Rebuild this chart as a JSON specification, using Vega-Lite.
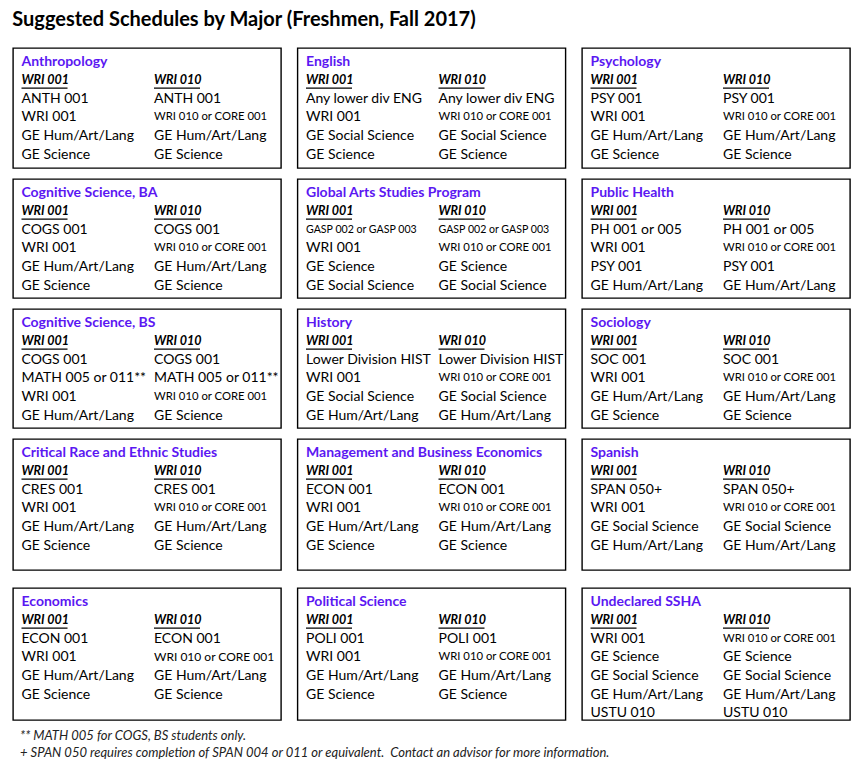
{
  "$schema": "https://vega.github.io/schema/vega-lite/v6.json",
  "padding": {"left": 12, "top": 10, "right": 5, "bottom": 5},
  "background": "white",
  "title": {"text": "Suggested Schedules by Major (Freshmen, Fall 2017)", "anchor": "start", "fontSize": 20, "fontWeight": "bold", "color": "black", "offset": 17, "font": "Lato"},
  "config": {"font": "Lato", "view": {"stroke": "black", "strokeWidth": 1.4}},
  "datasets": {
    "boxes": [
      {"r":1,"c":1,"k":"t","s":0,"n":0,"t":"Anthropology"},
      {"r":1,"c":1,"k":"h","s":0,"n":1,"t":"WRI 001"},
      {"r":1,"c":1,"k":"h","s":1,"n":1,"t":"WRI 010"},
      {"r":1,"c":1,"k":"i","s":0,"n":2,"t":"ANTH 001"},
      {"r":1,"c":1,"k":"i","s":0,"n":3,"t":"WRI 001"},
      {"r":1,"c":1,"k":"i","s":0,"n":4,"t":"GE Hum/Art/Lang"},
      {"r":1,"c":1,"k":"i","s":0,"n":5,"t":"GE Science"},
      {"r":1,"c":1,"k":"i","s":1,"n":2,"t":"ANTH 001"},
      {"r":1,"c":1,"k":"i","s":1,"n":3,"t":"WRI 010 or CORE 001"},
      {"r":1,"c":1,"k":"i","s":1,"n":4,"t":"GE Hum/Art/Lang"},
      {"r":1,"c":1,"k":"i","s":1,"n":5,"t":"GE Science"},

      {"r":1,"c":2,"k":"t","s":0,"n":0,"t":"English"},
      {"r":1,"c":2,"k":"h","s":0,"n":1,"t":"WRI 001"},
      {"r":1,"c":2,"k":"h","s":1,"n":1,"t":"WRI 010"},
      {"r":1,"c":2,"k":"i","s":0,"n":2,"t":"Any lower div ENG"},
      {"r":1,"c":2,"k":"i","s":0,"n":3,"t":"WRI 001"},
      {"r":1,"c":2,"k":"i","s":0,"n":4,"t":"GE Social Science"},
      {"r":1,"c":2,"k":"i","s":0,"n":5,"t":"GE Science"},
      {"r":1,"c":2,"k":"i","s":1,"n":2,"t":"Any lower div ENG"},
      {"r":1,"c":2,"k":"i","s":1,"n":3,"t":"WRI 010 or CORE 001"},
      {"r":1,"c":2,"k":"i","s":1,"n":4,"t":"GE Social Science"},
      {"r":1,"c":2,"k":"i","s":1,"n":5,"t":"GE Science"},

      {"r":1,"c":3,"k":"t","s":0,"n":0,"t":"Psychology"},
      {"r":1,"c":3,"k":"h","s":0,"n":1,"t":"WRI 001"},
      {"r":1,"c":3,"k":"h","s":1,"n":1,"t":"WRI 010"},
      {"r":1,"c":3,"k":"i","s":0,"n":2,"t":"PSY 001"},
      {"r":1,"c":3,"k":"i","s":0,"n":3,"t":"WRI 001"},
      {"r":1,"c":3,"k":"i","s":0,"n":4,"t":"GE Hum/Art/Lang"},
      {"r":1,"c":3,"k":"i","s":0,"n":5,"t":"GE Science"},
      {"r":1,"c":3,"k":"i","s":1,"n":2,"t":"PSY 001"},
      {"r":1,"c":3,"k":"i","s":1,"n":3,"t":"WRI 010 or CORE 001"},
      {"r":1,"c":3,"k":"i","s":1,"n":4,"t":"GE Hum/Art/Lang"},
      {"r":1,"c":3,"k":"i","s":1,"n":5,"t":"GE Science"},

      {"r":2,"c":1,"k":"t","s":0,"n":0,"t":"Cognitive Science, BA"},
      {"r":2,"c":1,"k":"h","s":0,"n":1,"t":"WRI 001"},
      {"r":2,"c":1,"k":"h","s":1,"n":1,"t":"WRI 010"},
      {"r":2,"c":1,"k":"i","s":0,"n":2,"t":"COGS 001"},
      {"r":2,"c":1,"k":"i","s":0,"n":3,"t":"WRI 001"},
      {"r":2,"c":1,"k":"i","s":0,"n":4,"t":"GE Hum/Art/Lang"},
      {"r":2,"c":1,"k":"i","s":0,"n":5,"t":"GE Science"},
      {"r":2,"c":1,"k":"i","s":1,"n":2,"t":"COGS 001"},
      {"r":2,"c":1,"k":"i","s":1,"n":3,"t":"WRI 010 or CORE 001"},
      {"r":2,"c":1,"k":"i","s":1,"n":4,"t":"GE Hum/Art/Lang"},
      {"r":2,"c":1,"k":"i","s":1,"n":5,"t":"GE Science"},

      {"r":2,"c":2,"k":"t","s":0,"n":0,"t":"Global Arts Studies Program"},
      {"r":2,"c":2,"k":"h","s":0,"n":1,"t":"WRI 001"},
      {"r":2,"c":2,"k":"h","s":1,"n":1,"t":"WRI 010"},
      {"r":2,"c":2,"k":"i","s":0,"n":2,"t":"GASP 002 or GASP 003"},
      {"r":2,"c":2,"k":"i","s":0,"n":3,"t":"WRI 001"},
      {"r":2,"c":2,"k":"i","s":0,"n":4,"t":"GE Science"},
      {"r":2,"c":2,"k":"i","s":0,"n":5,"t":"GE Social Science"},
      {"r":2,"c":2,"k":"i","s":1,"n":2,"t":"GASP 002 or GASP 003"},
      {"r":2,"c":2,"k":"i","s":1,"n":3,"t":"WRI 010 or CORE 001"},
      {"r":2,"c":2,"k":"i","s":1,"n":4,"t":"GE Science"},
      {"r":2,"c":2,"k":"i","s":1,"n":5,"t":"GE Social Science"},

      {"r":2,"c":3,"k":"t","s":0,"n":0,"t":"Public Health"},
      {"r":2,"c":3,"k":"h","s":0,"n":1,"t":"WRI 001"},
      {"r":2,"c":3,"k":"h","s":1,"n":1,"t":"WRI 010"},
      {"r":2,"c":3,"k":"i","s":0,"n":2,"t":"PH 001 or 005"},
      {"r":2,"c":3,"k":"i","s":0,"n":3,"t":"WRI 001"},
      {"r":2,"c":3,"k":"i","s":0,"n":4,"t":"PSY 001"},
      {"r":2,"c":3,"k":"i","s":0,"n":5,"t":"GE Hum/Art/Lang"},
      {"r":2,"c":3,"k":"i","s":1,"n":2,"t":"PH 001 or 005"},
      {"r":2,"c":3,"k":"i","s":1,"n":3,"t":"WRI 010 or CORE 001"},
      {"r":2,"c":3,"k":"i","s":1,"n":4,"t":"PSY 001"},
      {"r":2,"c":3,"k":"i","s":1,"n":5,"t":"GE Hum/Art/Lang"},

      {"r":3,"c":1,"k":"t","s":0,"n":0,"t":"Cognitive Science, BS"},
      {"r":3,"c":1,"k":"h","s":0,"n":1,"t":"WRI 001"},
      {"r":3,"c":1,"k":"h","s":1,"n":1,"t":"WRI 010"},
      {"r":3,"c":1,"k":"i","s":0,"n":2,"t":"COGS 001"},
      {"r":3,"c":1,"k":"i","s":0,"n":3,"t":"MATH 005 or 011**"},
      {"r":3,"c":1,"k":"i","s":0,"n":4,"t":"WRI 001"},
      {"r":3,"c":1,"k":"i","s":0,"n":5,"t":"GE Hum/Art/Lang"},
      {"r":3,"c":1,"k":"i","s":1,"n":2,"t":"COGS 001"},
      {"r":3,"c":1,"k":"i","s":1,"n":3,"t":"MATH 005 or 011**"},
      {"r":3,"c":1,"k":"i","s":1,"n":4,"t":"WRI 010 or CORE 001"},
      {"r":3,"c":1,"k":"i","s":1,"n":5,"t":"GE Science"},

      {"r":3,"c":2,"k":"t","s":0,"n":0,"t":"History"},
      {"r":3,"c":2,"k":"h","s":0,"n":1,"t":"WRI 001"},
      {"r":3,"c":2,"k":"h","s":1,"n":1,"t":"WRI 010"},
      {"r":3,"c":2,"k":"i","s":0,"n":2,"t":"Lower Division HIST"},
      {"r":3,"c":2,"k":"i","s":0,"n":3,"t":"WRI 001"},
      {"r":3,"c":2,"k":"i","s":0,"n":4,"t":"GE Social Science"},
      {"r":3,"c":2,"k":"i","s":0,"n":5,"t":"GE Hum/Art/Lang"},
      {"r":3,"c":2,"k":"i","s":1,"n":2,"t":"Lower Division HIST"},
      {"r":3,"c":2,"k":"i","s":1,"n":3,"t":"WRI 010 or CORE 001"},
      {"r":3,"c":2,"k":"i","s":1,"n":4,"t":"GE Social Science"},
      {"r":3,"c":2,"k":"i","s":1,"n":5,"t":"GE Hum/Art/Lang"},

      {"r":3,"c":3,"k":"t","s":0,"n":0,"t":"Sociology"},
      {"r":3,"c":3,"k":"h","s":0,"n":1,"t":"WRI 001"},
      {"r":3,"c":3,"k":"h","s":1,"n":1,"t":"WRI 010"},
      {"r":3,"c":3,"k":"i","s":0,"n":2,"t":"SOC 001"},
      {"r":3,"c":3,"k":"i","s":0,"n":3,"t":"WRI 001"},
      {"r":3,"c":3,"k":"i","s":0,"n":4,"t":"GE Hum/Art/Lang"},
      {"r":3,"c":3,"k":"i","s":0,"n":5,"t":"GE Science"},
      {"r":3,"c":3,"k":"i","s":1,"n":2,"t":"SOC 001"},
      {"r":3,"c":3,"k":"i","s":1,"n":3,"t":"WRI 010 or CORE 001"},
      {"r":3,"c":3,"k":"i","s":1,"n":4,"t":"GE Hum/Art/Lang"},
      {"r":3,"c":3,"k":"i","s":1,"n":5,"t":"GE Science"},

      {"r":4,"c":1,"k":"t","s":0,"n":0,"t":"Critical Race and Ethnic Studies"},
      {"r":4,"c":1,"k":"h","s":0,"n":1,"t":"WRI 001"},
      {"r":4,"c":1,"k":"h","s":1,"n":1,"t":"WRI 010"},
      {"r":4,"c":1,"k":"i","s":0,"n":2,"t":"CRES 001"},
      {"r":4,"c":1,"k":"i","s":0,"n":3,"t":"WRI 001"},
      {"r":4,"c":1,"k":"i","s":0,"n":4,"t":"GE Hum/Art/Lang"},
      {"r":4,"c":1,"k":"i","s":0,"n":5,"t":"GE Science"},
      {"r":4,"c":1,"k":"i","s":1,"n":2,"t":"CRES 001"},
      {"r":4,"c":1,"k":"i","s":1,"n":3,"t":"WRI 010 or CORE 001"},
      {"r":4,"c":1,"k":"i","s":1,"n":4,"t":"GE Hum/Art/Lang"},
      {"r":4,"c":1,"k":"i","s":1,"n":5,"t":"GE Science"},

      {"r":4,"c":2,"k":"t","s":0,"n":0,"t":"Management and Business Economics"},
      {"r":4,"c":2,"k":"h","s":0,"n":1,"t":"WRI 001"},
      {"r":4,"c":2,"k":"h","s":1,"n":1,"t":"WRI 010"},
      {"r":4,"c":2,"k":"i","s":0,"n":2,"t":"ECON 001"},
      {"r":4,"c":2,"k":"i","s":0,"n":3,"t":"WRI 001"},
      {"r":4,"c":2,"k":"i","s":0,"n":4,"t":"GE Hum/Art/Lang"},
      {"r":4,"c":2,"k":"i","s":0,"n":5,"t":"GE Science"},
      {"r":4,"c":2,"k":"i","s":1,"n":2,"t":"ECON 001"},
      {"r":4,"c":2,"k":"i","s":1,"n":3,"t":"WRI 010 or CORE 001"},
      {"r":4,"c":2,"k":"i","s":1,"n":4,"t":"GE Hum/Art/Lang"},
      {"r":4,"c":2,"k":"i","s":1,"n":5,"t":"GE Science"},

      {"r":4,"c":3,"k":"t","s":0,"n":0,"t":"Spanish"},
      {"r":4,"c":3,"k":"h","s":0,"n":1,"t":"WRI 001"},
      {"r":4,"c":3,"k":"h","s":1,"n":1,"t":"WRI 010"},
      {"r":4,"c":3,"k":"i","s":0,"n":2,"t":"SPAN 050+"},
      {"r":4,"c":3,"k":"i","s":0,"n":3,"t":"WRI 001"},
      {"r":4,"c":3,"k":"i","s":0,"n":4,"t":"GE Social Science"},
      {"r":4,"c":3,"k":"i","s":0,"n":5,"t":"GE Hum/Art/Lang"},
      {"r":4,"c":3,"k":"i","s":1,"n":2,"t":"SPAN 050+"},
      {"r":4,"c":3,"k":"i","s":1,"n":3,"t":"WRI 010 or CORE 001"},
      {"r":4,"c":3,"k":"i","s":1,"n":4,"t":"GE Social Science"},
      {"r":4,"c":3,"k":"i","s":1,"n":5,"t":"GE Hum/Art/Lang"},

      {"r":5,"c":1,"k":"t","s":0,"n":0,"t":"Economics"},
      {"r":5,"c":1,"k":"h","s":0,"n":1,"t":"WRI 001"},
      {"r":5,"c":1,"k":"h","s":1,"n":1,"t":"WRI 010"},
      {"r":5,"c":1,"k":"i","s":0,"n":2,"t":"ECON 001"},
      {"r":5,"c":1,"k":"i","s":0,"n":3,"t":"WRI 001"},
      {"r":5,"c":1,"k":"i","s":0,"n":4,"t":"GE Hum/Art/Lang"},
      {"r":5,"c":1,"k":"i","s":0,"n":5,"t":"GE Science"},
      {"r":5,"c":1,"k":"i","s":1,"n":2,"t":"ECON 001"},
      {"r":5,"c":1,"k":"i","s":1,"n":3,"t":"WRI 010 or CORE 001"},
      {"r":5,"c":1,"k":"i","s":1,"n":4,"t":"GE Hum/Art/Lang"},
      {"r":5,"c":1,"k":"i","s":1,"n":5,"t":"GE Science"},

      {"r":5,"c":2,"k":"t","s":0,"n":0,"t":"Political Science"},
      {"r":5,"c":2,"k":"h","s":0,"n":1,"t":"WRI 001"},
      {"r":5,"c":2,"k":"h","s":1,"n":1,"t":"WRI 010"},
      {"r":5,"c":2,"k":"i","s":0,"n":2,"t":"POLI 001"},
      {"r":5,"c":2,"k":"i","s":0,"n":3,"t":"WRI 001"},
      {"r":5,"c":2,"k":"i","s":0,"n":4,"t":"GE Hum/Art/Lang"},
      {"r":5,"c":2,"k":"i","s":0,"n":5,"t":"GE Science"},
      {"r":5,"c":2,"k":"i","s":1,"n":2,"t":"POLI 001"},
      {"r":5,"c":2,"k":"i","s":1,"n":3,"t":"WRI 010 or CORE 001"},
      {"r":5,"c":2,"k":"i","s":1,"n":4,"t":"GE Hum/Art/Lang"},
      {"r":5,"c":2,"k":"i","s":1,"n":5,"t":"GE Science"},

      {"r":5,"c":3,"k":"t","s":0,"n":0,"t":"Undeclared SSHA"},
      {"r":5,"c":3,"k":"h","s":0,"n":1,"t":"WRI 001"},
      {"r":5,"c":3,"k":"h","s":1,"n":1,"t":"WRI 010"},
      {"r":5,"c":3,"k":"i","s":0,"n":2,"t":"WRI 001"},
      {"r":5,"c":3,"k":"i","s":0,"n":3,"t":"GE Science"},
      {"r":5,"c":3,"k":"i","s":0,"n":4,"t":"GE Social Science"},
      {"r":5,"c":3,"k":"i","s":0,"n":5,"t":"GE Hum/Art/Lang"},
      {"r":5,"c":3,"k":"i","s":0,"n":6,"t":"USTU 010"},
      {"r":5,"c":3,"k":"i","s":1,"n":2,"t":"WRI 010 or CORE 001"},
      {"r":5,"c":3,"k":"i","s":1,"n":3,"t":"GE Science"},
      {"r":5,"c":3,"k":"i","s":1,"n":4,"t":"GE Social Science"},
      {"r":5,"c":3,"k":"i","s":1,"n":5,"t":"GE Hum/Art/Lang"},
      {"r":5,"c":3,"k":"i","s":1,"n":6,"t":"USTU 010"}
    ],
    "notes": [
      {"s":0,"n":0,"t":"** MATH 005 for COGS, BS students only."},
      {"s":0,"n":1,"t":"+ SPAN 050 requires completion of SPAN 004 or 011 or equivalent.\u00a0 Contact an advisor for more information."}
    ]
  },
  "spacing": 16,
  "vconcat": [
    {
      "spacing": 9,
      "vconcat": [
        {
          "data": {"name": "boxes"},
          "transform": [{"filter": "datum.r == 1"}],
          "facet": {"column": {"field": "c", "type": "ordinal", "header": null}},
          "spacing": 16.5,
          "bounds": "flush",
          "spec": {
            "width": 268, "height": 120,
            "layer": [
              {"transform": [{"filter": "datum.k == 't'"}], "mark": {"type": "text", "align": "left", "baseline": "middle", "fontSize": 14, "fontWeight": "bold", "color": "#5b17f2"},
               "encoding": {"x": {"field": "s", "type": "quantitative", "scale": {"domain": [0, 1], "range": [8.5, 141]}, "axis": null}, "y": {"field": "n", "type": "quantitative", "scale": {"domain": [0, 6], "range": [13.5, 125.1]}, "axis": null}, "text": {"field": "t"}}},
              {"transform": [{"filter": "datum.k == 'h'"}], "mark": {"type": "text", "align": "left", "baseline": "middle", "fontSize": 12.5, "fontWeight": "bold", "fontStyle": "italic", "color": "black"},
               "encoding": {"x": {"field": "s", "type": "quantitative"}, "y": {"field": "n", "type": "quantitative"}, "text": {"field": "t"}}},
              {"transform": [{"filter": "datum.k == 'h'"}], "mark": {"type": "rule", "x2Offset": 46, "yOffset": 8, "strokeWidth": 1.3, "color": "black"},
               "encoding": {"x": {"field": "s", "type": "quantitative"}, "x2": {"field": "s"}, "y": {"field": "n", "type": "quantitative"}}},
              {"transform": [{"filter": "datum.k == 'i'"}], "mark": {"type": "text", "align": "left", "baseline": "middle", "color": "black"},
               "encoding": {"x": {"field": "s", "type": "quantitative"}, "y": {"field": "n", "type": "quantitative"}, "text": {"field": "t"},
                 "size": {"condition": [{"test": "indexof(datum.t, 'GASP') >= 0", "value": 10.6}, {"test": "indexof(datum.t, 'CORE') >= 0 && datum.r == 5 && datum.c == 1", "value": 12}, {"test": "indexof(datum.t, 'CORE') >= 0", "value": 11.3}], "value": 14}}}
            ]
          }
        },
        {
          "data": {"name": "boxes"},
          "transform": [{"filter": "datum.r == 2"}],
          "facet": {"column": {"field": "c", "type": "ordinal", "header": null}},
          "spacing": 16.5,
          "bounds": "flush",
          "spec": {
            "width": 268, "height": 119,
            "layer": [
              {"transform": [{"filter": "datum.k == 't'"}], "mark": {"type": "text", "align": "left", "baseline": "middle", "fontSize": 14, "fontWeight": "bold", "color": "#5b17f2"},
               "encoding": {"x": {"field": "s", "type": "quantitative", "scale": {"domain": [0, 1], "range": [8.5, 141]}, "axis": null}, "y": {"field": "n", "type": "quantitative", "scale": {"domain": [0, 6], "range": [13.5, 125.1]}, "axis": null}, "text": {"field": "t"}}},
              {"transform": [{"filter": "datum.k == 'h'"}], "mark": {"type": "text", "align": "left", "baseline": "middle", "fontSize": 12.5, "fontWeight": "bold", "fontStyle": "italic", "color": "black"},
               "encoding": {"x": {"field": "s", "type": "quantitative"}, "y": {"field": "n", "type": "quantitative"}, "text": {"field": "t"}}},
              {"transform": [{"filter": "datum.k == 'h'"}], "mark": {"type": "rule", "x2Offset": 46, "yOffset": 8, "strokeWidth": 1.3, "color": "black"},
               "encoding": {"x": {"field": "s", "type": "quantitative"}, "x2": {"field": "s"}, "y": {"field": "n", "type": "quantitative"}}},
              {"transform": [{"filter": "datum.k == 'i'"}], "mark": {"type": "text", "align": "left", "baseline": "middle", "color": "black"},
               "encoding": {"x": {"field": "s", "type": "quantitative"}, "y": {"field": "n", "type": "quantitative"}, "text": {"field": "t"},
                 "size": {"condition": [{"test": "indexof(datum.t, 'GASP') >= 0", "value": 10.6}, {"test": "indexof(datum.t, 'CORE') >= 0 && datum.r == 5 && datum.c == 1", "value": 12}, {"test": "indexof(datum.t, 'CORE') >= 0", "value": 11.3}], "value": 14}}}
            ]
          }
        },
        {
          "data": {"name": "boxes"},
          "transform": [{"filter": "datum.r == 3"}],
          "facet": {"column": {"field": "c", "type": "ordinal", "header": null}},
          "spacing": 16.5,
          "bounds": "flush",
          "spec": {
            "width": 268, "height": 119,
            "layer": [
              {"transform": [{"filter": "datum.k == 't'"}], "mark": {"type": "text", "align": "left", "baseline": "middle", "fontSize": 14, "fontWeight": "bold", "color": "#5b17f2"},
               "encoding": {"x": {"field": "s", "type": "quantitative", "scale": {"domain": [0, 1], "range": [8.5, 141]}, "axis": null}, "y": {"field": "n", "type": "quantitative", "scale": {"domain": [0, 6], "range": [13.5, 125.1]}, "axis": null}, "text": {"field": "t"}}},
              {"transform": [{"filter": "datum.k == 'h'"}], "mark": {"type": "text", "align": "left", "baseline": "middle", "fontSize": 12.5, "fontWeight": "bold", "fontStyle": "italic", "color": "black"},
               "encoding": {"x": {"field": "s", "type": "quantitative"}, "y": {"field": "n", "type": "quantitative"}, "text": {"field": "t"}}},
              {"transform": [{"filter": "datum.k == 'h'"}], "mark": {"type": "rule", "x2Offset": 46, "yOffset": 8, "strokeWidth": 1.3, "color": "black"},
               "encoding": {"x": {"field": "s", "type": "quantitative"}, "x2": {"field": "s"}, "y": {"field": "n", "type": "quantitative"}}},
              {"transform": [{"filter": "datum.k == 'i'"}], "mark": {"type": "text", "align": "left", "baseline": "middle", "color": "black"},
               "encoding": {"x": {"field": "s", "type": "quantitative"}, "y": {"field": "n", "type": "quantitative"}, "text": {"field": "t"},
                 "size": {"condition": [{"test": "indexof(datum.t, 'GASP') >= 0", "value": 10.6}, {"test": "indexof(datum.t, 'CORE') >= 0 && datum.r == 5 && datum.c == 1", "value": 12}, {"test": "indexof(datum.t, 'CORE') >= 0", "value": 11.3}], "value": 14}}}
            ]
          }
        },
        {
          "data": {"name": "boxes"},
          "transform": [{"filter": "datum.r == 4"}],
          "facet": {"column": {"field": "c", "type": "ordinal", "header": null}},
          "spacing": 16.5,
          "bounds": "flush",
          "spec": {
            "width": 268, "height": 131,
            "layer": [
              {"transform": [{"filter": "datum.k == 't'"}], "mark": {"type": "text", "align": "left", "baseline": "middle", "fontSize": 14, "fontWeight": "bold", "color": "#5b17f2"},
               "encoding": {"x": {"field": "s", "type": "quantitative", "scale": {"domain": [0, 1], "range": [8.5, 141]}, "axis": null}, "y": {"field": "n", "type": "quantitative", "scale": {"domain": [0, 6], "range": [13.5, 125.1]}, "axis": null}, "text": {"field": "t"}}},
              {"transform": [{"filter": "datum.k == 'h'"}], "mark": {"type": "text", "align": "left", "baseline": "middle", "fontSize": 12.5, "fontWeight": "bold", "fontStyle": "italic", "color": "black"},
               "encoding": {"x": {"field": "s", "type": "quantitative"}, "y": {"field": "n", "type": "quantitative"}, "text": {"field": "t"}}},
              {"transform": [{"filter": "datum.k == 'h'"}], "mark": {"type": "rule", "x2Offset": 46, "yOffset": 8, "strokeWidth": 1.3, "color": "black"},
               "encoding": {"x": {"field": "s", "type": "quantitative"}, "x2": {"field": "s"}, "y": {"field": "n", "type": "quantitative"}}},
              {"transform": [{"filter": "datum.k == 'i'"}], "mark": {"type": "text", "align": "left", "baseline": "middle", "color": "black"},
               "encoding": {"x": {"field": "s", "type": "quantitative"}, "y": {"field": "n", "type": "quantitative"}, "text": {"field": "t"},
                 "size": {"condition": [{"test": "indexof(datum.t, 'GASP') >= 0", "value": 10.6}, {"test": "indexof(datum.t, 'CORE') >= 0 && datum.r == 5 && datum.c == 1", "value": 12}, {"test": "indexof(datum.t, 'CORE') >= 0", "value": 11.3}], "value": 14}}}
            ]
          }
        }
      ]
    },
    {
      "spacing": 8,
      "vconcat": [
        {
          "data": {"name": "boxes"},
          "transform": [{"filter": "datum.r == 5"}],
          "facet": {"column": {"field": "c", "type": "ordinal", "header": null}},
          "spacing": 16.5,
          "bounds": "flush",
          "spec": {
            "width": 268, "height": 132,
            "layer": [
              {"transform": [{"filter": "datum.k == 't'"}], "mark": {"type": "text", "align": "left", "baseline": "middle", "fontSize": 14, "fontWeight": "bold", "color": "#5b17f2"},
               "encoding": {"x": {"field": "s", "type": "quantitative", "scale": {"domain": [0, 1], "range": [8.5, 141]}, "axis": null}, "y": {"field": "n", "type": "quantitative", "scale": {"domain": [0, 6], "range": [13.5, 125.1]}, "axis": null}, "text": {"field": "t"}}},
              {"transform": [{"filter": "datum.k == 'h'"}], "mark": {"type": "text", "align": "left", "baseline": "middle", "fontSize": 12.5, "fontWeight": "bold", "fontStyle": "italic", "color": "black"},
               "encoding": {"x": {"field": "s", "type": "quantitative"}, "y": {"field": "n", "type": "quantitative"}, "text": {"field": "t"}}},
              {"transform": [{"filter": "datum.k == 'h'"}], "mark": {"type": "rule", "x2Offset": 46, "yOffset": 8, "strokeWidth": 1.3, "color": "black"},
               "encoding": {"x": {"field": "s", "type": "quantitative"}, "x2": {"field": "s"}, "y": {"field": "n", "type": "quantitative"}}},
              {"transform": [{"filter": "datum.k == 'i'"}], "mark": {"type": "text", "align": "left", "baseline": "middle", "color": "black"},
               "encoding": {"x": {"field": "s", "type": "quantitative"}, "y": {"field": "n", "type": "quantitative"}, "text": {"field": "t"},
                 "size": {"condition": [{"test": "indexof(datum.t, 'GASP') >= 0", "value": 10.6}, {"test": "indexof(datum.t, 'CORE') >= 0 && datum.r == 5 && datum.c == 1", "value": 12}, {"test": "indexof(datum.t, 'CORE') >= 0", "value": 11.3}], "value": 14}}}
            ]
          }
        },
        {
          "data": {"name": "notes"},
          "width": 834, "height": 28,
          "view": {"stroke": null},
          "mark": {"type": "text", "align": "left", "baseline": "middle", "fontSize": 13, "fontStyle": "italic", "color": "#222222"},
          "encoding": {
            "x": {"field": "s", "type": "quantitative", "scale": {"domain": [0, 1], "range": [7, 100]}, "axis": null},
            "y": {"field": "n", "type": "quantitative", "scale": {"domain": [0, 1], "range": [5.5, 22.5]}, "axis": null},
            "text": {"field": "t"}
          }
        }
      ]
    }
  ]
}
